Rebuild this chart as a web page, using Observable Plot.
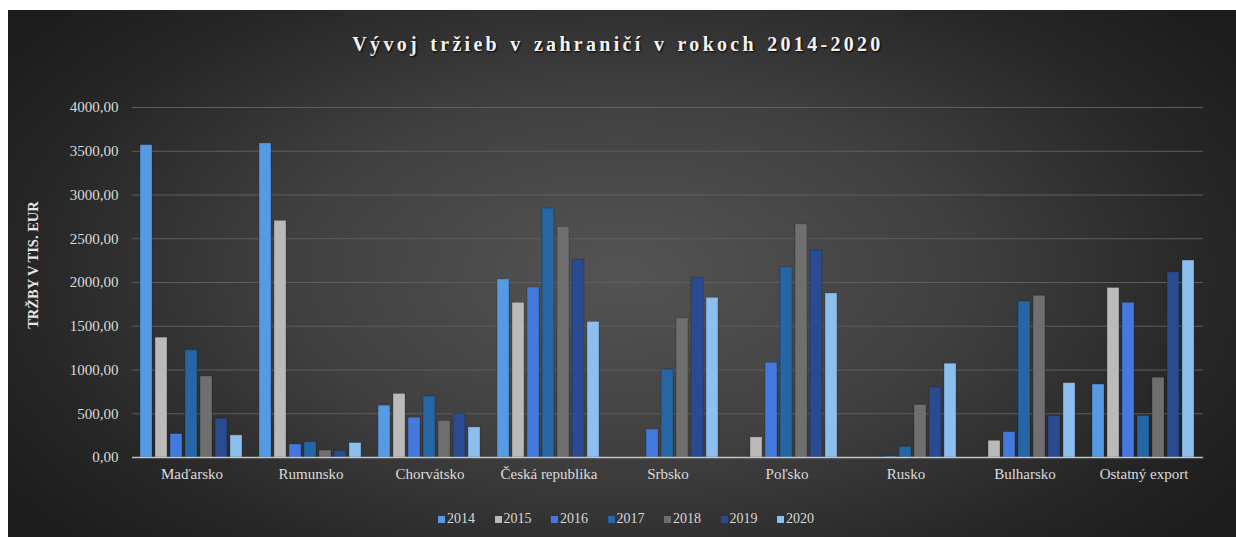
<!DOCTYPE html>
<html>
<head>
<meta charset="utf-8">
<script src="https://cdn.jsdelivr.net/npm/d3@7"></script>
<script src="https://cdn.jsdelivr.net/npm/@observablehq/plot@0.6"></script>
<style>
  html, body { margin: 0; padding: 0; background: #ffffff; width: 1236px; height: 537px; overflow: hidden; }
  #panel { position: absolute; left: 8px; top: 10px; width: 1228px; height: 527px;
    background: radial-gradient(ellipse 60% 75% at 50% 50%, #545454 0%, #404040 45%, #272727 80%, #1d1d1d 100%); }
  #title { position: absolute; left: 0; width: 1236px; top: 33px; text-align: center;
    font-family: "Liberation Serif", serif; font-weight: bold; font-size: 20px; letter-spacing: 3.3px; word-spacing: 2px;
    color: #f2f2f2; text-shadow: 1px 1px 2px #000; }
  #ylabel { position: absolute; left: 33px; top: 265px; transform: translate(-50%, -50%) rotate(-90deg);
    font-family: "Liberation Serif", serif; font-weight: bold; font-size: 14.5px; color: #e6e6e6; white-space: nowrap; }
  #chart { position: absolute; left: 0; top: 0; }
  #legend { position: absolute; left: 438px; top: 511px; display: flex; font-family: "Liberation Serif", serif;
    font-size: 14px; color: #d9d9d9; }
  .item { display: flex; align-items: center; width: 56.5px; }
  .sw { width: 7px; height: 7px; margin-right: 2px; }
</style>
</head>
<body>
<div id="panel"></div>
<div id="title">Vývoj tržieb v zahraničí v rokoch 2014-2020</div>
<div id="chart"></div>
<div id="ylabel">TRŽBY V TIS. EUR</div>
<div id="legend"></div>
<script>
const countries = ["Maďarsko", "Rumunsko", "Chorvátsko", "Česká republika", "Srbsko", "Poľsko", "Rusko", "Bulharsko", "Ostatný export"];
const years = ["2014", "2015", "2016", "2017", "2018", "2019", "2020"];
const colors = ["#559ae3", "#bababa", "#4479de", "#2466a6", "#6f6f6f", "#2a4b90", "#8cbfee"];

const v2014 = [3570, 3590, 593, 2036, 0, 0, 0, 0, 834];
const v2015 = [1370, 2705, 727, 1768, 0, 230, 0, 191, 1938];
const v2016 = [268, 149, 455, 1944, 321, 1083, 10, 291, 1768];
const v2017 = [1225, 176, 697, 2845, 1006, 2174, 122, 1783, 476];
const v2018 = [926, 80, 417, 2635, 1592, 2665, 601, 1848, 912];
const v2019 = [444, 73, 497, 2260, 2055, 2368, 800, 475, 2116];
const v2020 = [253, 165, 344, 1550, 1825, 1875, 1072, 850, 2251];

const yTicks = [0, 500, 1000, 1500, 2000, 2500, 3000, 3500, 4000];
const gridValues = [500, 1000, 1500, 2000, 2500, 3000, 3500, 4000];

const series = [v2014, v2015, v2016, v2017, v2018, v2019, v2020];
const data = [];
series.forEach((vals, i) => {
  vals.forEach((v, j) => data.push({country: countries[j], year: years[i], value: v}));
});

const chart = Plot.plot({
  width: 1236,
  height: 500,
  marginLeft: 128,
  marginRight: 30,
  marginTop: 107,
  marginBottom: 43,
  style: {background: "transparent", fontFamily: "Liberation Serif, serif", fontSize: "15px", color: "#dcdcdc", overflow: "visible"},
  fx: {domain: countries, padding: 0, axis: "bottom", tickSize: 0, tickPadding: 11, label: null},
  x: {domain: years, axis: null, paddingInner: 0.18, paddingOuter: 0.35},
  y: {domain: [0, 4000], ticks: yTicks, tickFormat: d => d.toFixed(2).replace(".", ","), tickSize: 0, tickPadding: 14, label: null},
  color: {domain: years, range: colors},
  marks: [
    Plot.ruleY(gridValues, {stroke: "#5e5e5e", strokeWidth: 1}),
    Plot.barY(data, {fx: "country", x: "year", y: "value", fill: "year", stroke: "#1a1a1a", strokeOpacity: 0.35, strokeWidth: 0.8}),
    Plot.ruleY([0], {stroke: "#c4c4c4", strokeWidth: 1.6})
  ]
});
document.getElementById("chart").appendChild(chart);

const legend = document.getElementById("legend");
years.forEach((y, i) => {
  const item = document.createElement("div");
  item.className = "item";
  const sw = document.createElement("div");
  sw.className = "sw";
  sw.style.background = colors[i];
  const t = document.createElement("span");
  t.textContent = y;
  item.appendChild(sw);
  item.appendChild(t);
  legend.appendChild(item);
});
</script>
</body>
</html>
